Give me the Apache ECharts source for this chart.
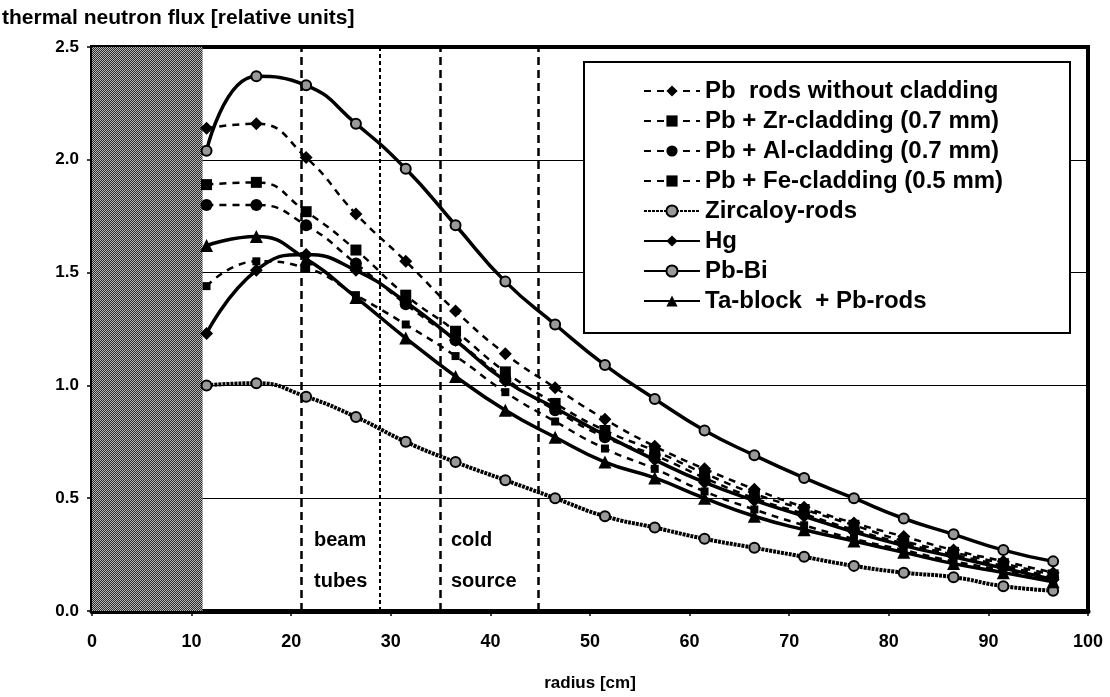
<!DOCTYPE html>
<html>
<head>
<meta charset="utf-8">
<script src="https://cdn.jsdelivr.net/npm/echarts@6/dist/echarts.min.js"></script>
<style>
html,body{margin:0;padding:0;background:#fff;}
#chart{width:1110px;height:697px;}
</style>
</head>
<body>
<div id="chart"></div>
<script>
// ---- data ----
const radius = [11.5,16.5,21.5,26.5,31.5,36.5,41.5,46.5,51.5,56.5,61.5,66.5,71.5,76.5,81.5,86.5,91.5,96.5];
const seriesNames = ['Pb  rods without cladding','Pb + Zr-cladding (0.7 mm)','Pb + Al-cladding (0.7 mm)','Pb + Fe-cladding (0.5 mm)','Zircaloy-rods','Hg','Pb-Bi','Ta-block  + Pb-rods'];
const pbNoClad  = [2.14,2.16,2.01,1.76,1.55,1.33,1.14,0.99,0.85,0.73,0.63,0.54,0.46,0.39,0.33,0.27,0.22,0.17];
const pbZr      = [1.89,1.90,1.77,1.60,1.40,1.24,1.06,0.92,0.80,0.71,0.61,0.52,0.45,0.38,0.31,0.26,0.21,0.16];
const pbAl      = [1.80,1.80,1.71,1.54,1.36,1.20,1.03,0.89,0.77,0.69,0.59,0.50,0.43,0.36,0.30,0.25,0.20,0.15];
const pbFe      = [1.44,1.55,1.52,1.40,1.27,1.13,0.97,0.84,0.72,0.63,0.53,0.45,0.38,0.32,0.27,0.22,0.18,0.13];
const zircaloy  = [1.00,1.01,0.95,0.86,0.75,0.66,0.58,0.50,0.42,0.37,0.32,0.28,0.24,0.20,0.17,0.15,0.11,0.09];
const hg        = [1.23,1.51,1.58,1.51,1.37,1.20,1.02,0.90,0.78,0.67,0.57,0.49,0.42,0.35,0.29,0.24,0.19,0.14];
const pbBi      = [2.04,2.37,2.33,2.16,1.96,1.71,1.46,1.27,1.09,0.94,0.80,0.69,0.59,0.50,0.41,0.34,0.27,0.22];
const taBlock   = [1.62,1.66,1.56,1.39,1.21,1.04,0.89,0.77,0.66,0.59,0.50,0.42,0.36,0.31,0.26,0.21,0.17,0.13];
const targetZone = [0, 11.1];          // shaded target region [cm]
const zoneLines = [21.0, 28.9, 35.0, 44.8]; // beam tubes / cold source boundaries [cm]
const yTicks = [0, 0.5, 1.0, 1.5, 2.0, 2.5];
const xTicks = [0,10,20,30,40,50,60,70,80,90,100];

// ---- pattern for shaded zone ----
const pc = document.createElement('canvas');
pc.width = 2; pc.height = 2;
const pctx = pc.getContext('2d');
pctx.fillStyle = '#2a2a2a'; pctx.fillRect(0,0,2,2);
pctx.fillStyle = '#b8b8b8'; pctx.fillRect(0,0,1,1); pctx.fillRect(1,1,1,1);

const FONT = '"Liberation Sans", Arial, sans-serif';
const pair = arr => radius.map((r,i)=>[r,arr[i]]);

const dashed = {type:[7,6], width:2.5, color:'#000'};
const solid = {type:'solid', width:3.5, color:'#000'};

const defs = [
  {data:pbNoClad, symbol:'diamond', size:13, line:dashed},
  {data:pbZr, symbol:'rect', size:11, line:dashed},
  {data:pbAl, symbol:'circle', size:12, line:dashed},
  {data:pbFe, symbol:'rect', size:8, line:dashed},
  {data:zircaloy, symbol:'circle', size:10, line:{type:[3,1], width:4, color:'#000'}, fill:'#999'},
  {data:hg, symbol:'diamond', size:13, line:solid},
  {data:pbBi, symbol:'circle', size:10, line:solid, fill:'#999'},
  {data:taBlock, symbol:'triangle', size:13, line:solid}
];

const series = defs.map((d,i)=>({
  name: seriesNames[i],
  type:'line',
  smooth:true,
  data: pair(d.data),
  symbol:d.symbol,
  symbolSize:d.size,
  lineStyle:d.line,
  itemStyle:{color: d.fill || '#000', borderColor:'#000', borderWidth: d.fill ? 2 : 0},
  z: 3
}));

series[0].markArea = {
  silent:true,
  itemStyle:{color:{image:pc, repeat:'repeat'}},
  data:[[{xAxis:targetZone[0]},{xAxis:targetZone[1]}]]
};
series[0].markLine = {
  silent:true,
  symbol:'none',
  label:{show:false},
  data: zoneLines.map((v,i)=>({xAxis:v, lineStyle:{type: i===1 ? [4,3] : [8,5], width: i===1 ? 2 : 2.5, color:'#000'}}))
};

const chart = echarts.init(document.getElementById('chart'), null, {renderer:'canvas'});
chart.setOption({
  animation:false,
  backgroundColor:'#fff',
  textStyle:{fontFamily:FONT},
  grid:{left:92, right:22, top:47, bottom:84, show:true, borderColor:'#000', borderWidth:4, backgroundColor:'transparent'},
  xAxis:{
    type:'value', min:xTicks[0], max:xTicks[xTicks.length-1], interval:10,
    name:'radius [cm]', nameLocation:'middle', nameGap:64,
    nameTextStyle:{fontFamily:FONT, fontWeight:'bold', fontSize:17, color:'#000'},
    axisLine:{show:true, lineStyle:{color:'#000', width:5}},
    axisTick:{show:true, length:5, lineStyle:{color:'#000', width:1.5}},
    axisLabel:{fontFamily:FONT, fontWeight:'bold', fontSize:18, color:'#000', margin:22},
    splitLine:{show:false}
  },
  yAxis:{
    type:'value', min:yTicks[0], max:yTicks[yTicks.length-1], interval:0.5,
    axisLine:{show:false},
    axisTick:{show:true, length:5, lineStyle:{color:'#000', width:1.5}},
    axisLabel:{fontFamily:FONT, fontWeight:'bold', fontSize:17, color:'#000', margin:13, formatter:v=>v.toFixed(1)},
    splitLine:{show:true, lineStyle:{color:'#000', width:1.2}}
  },
  legend:{
    orient:'vertical', left:638, top:71, z:10,
    itemWidth:56, itemHeight:14, itemGap:0,
    textStyle:{fontFamily:FONT, fontWeight:'bold', fontSize:24, color:'#000', lineHeight:30},
    data: seriesNames
  },
  graphic:[
    {type:'rect', z:3, silent:true, shape:{x:584, y:62, width:486, height:271}, style:{fill:'#fff', stroke:'#000', lineWidth:2}},
    {type:'text', left:2, top:8, style:{text:'thermal neutron flux [relative units]', font:'bold 21px '+FONT, fill:'#000'}},
    {type:'text', left:314, top:530, z:5, style:{text:'beam', font:'bold 20px '+FONT, fill:'#000'}},
    {type:'text', left:314, top:571, z:5, style:{text:'tubes', font:'bold 20px '+FONT, fill:'#000'}},
    {type:'text', left:451, top:530, z:5, style:{text:'cold', font:'bold 20px '+FONT, fill:'#000'}},
    {type:'text', left:451, top:571, z:5, style:{text:'source', font:'bold 20px '+FONT, fill:'#000'}}
  ],
  series: series
});
</script>
</body>
</html>
